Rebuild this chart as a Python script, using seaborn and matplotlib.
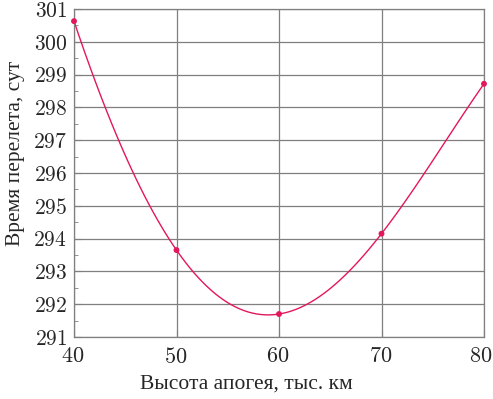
import matplotlib
matplotlib.use("Agg")
import matplotlib.pyplot as plt
import matplotlib.transforms as mtransforms
import seaborn as sns
import pandas as pd
from matplotlib.ticker import MultipleLocator

# data
apogee = [40, 50, 60, 70, 80]                  # тыс. км
flight_time = [300.63, 293.65, 291.70, 294.15, 298.72]  # сут

x_ticks = [40, 50, 60, 70, 80]
y_ticks = list(range(291, 302))

LINE = "#e3175c"
GRID = "#7f7f7f"
TICK_FONT = ["cmr10", "DejaVu Serif"]
LABEL_FONT = ["Liberation Serif", "DejaVu Serif"]

sns.set_style("white")
plt.rcParams["font.family"] = TICK_FONT
plt.rcParams["axes.formatter.use_mathtext"] = True

df = pd.DataFrame({"x": apogee, "y": flight_time})

fig = plt.figure(figsize=(4.93, 3.99), dpi=100)
ax = fig.add_axes([74 / 493, 1 - 337 / 399, 410 / 493, 328 / 399])

# smooth curve: quartic through the five points
sns.regplot(data=df, x="x", y="y", order=4, ci=None, scatter=False,
            line_kws={"color": LINE, "lw": 1.0}, ax=ax)
sns.scatterplot(data=df, x="x", y="y", color=LINE, s=18, edgecolor="none",
                zorder=5, clip_on=False, ax=ax)

ax.set_xlim(40, 80)
ax.set_ylim(291, 301)
ax.set_xticks(x_ticks)
ax.set_yticks(y_ticks)
ax.yaxis.set_minor_locator(MultipleLocator(0.5))
ax.grid(True, which="major", color=GRID, lw=0.9)
for s in ax.spines.values():
    s.set_color(GRID)
    s.set_linewidth(0.9)

ax.tick_params(axis="both", which="major", direction="in", length=5, color=GRID)
ax.tick_params(axis="y", which="minor", direction="in", length=3,
               color=GRID, left=True)
ax.tick_params(axis="y", which="major", left=True, pad=5, labelsize=15.5)
ax.tick_params(axis="x", which="major", bottom=True, pad=7, labelsize=16)

# nudge x tick labels slightly left, the last one a bit more so it fits
for i, lab in enumerate(ax.get_xticklabels()):
    dx = -3.5 if i == len(x_ticks) - 1 else -1
    lab.set_transform(lab.get_transform() +
                      mtransforms.ScaledTranslation(dx / 100, 0, fig.dpi_scale_trans))

ax.set_xlabel("Высота апогея, тыс. км", fontsize=15.5, family=LABEL_FONT)
ax.set_ylabel("Время перелета, сут", fontsize=15.5, family=LABEL_FONT)
ax.xaxis.set_label_coords(0.42, -0.115)
ax.yaxis.set_label_coords(-0.12, 0.56)

fig.savefig("out.png", dpi=100)
